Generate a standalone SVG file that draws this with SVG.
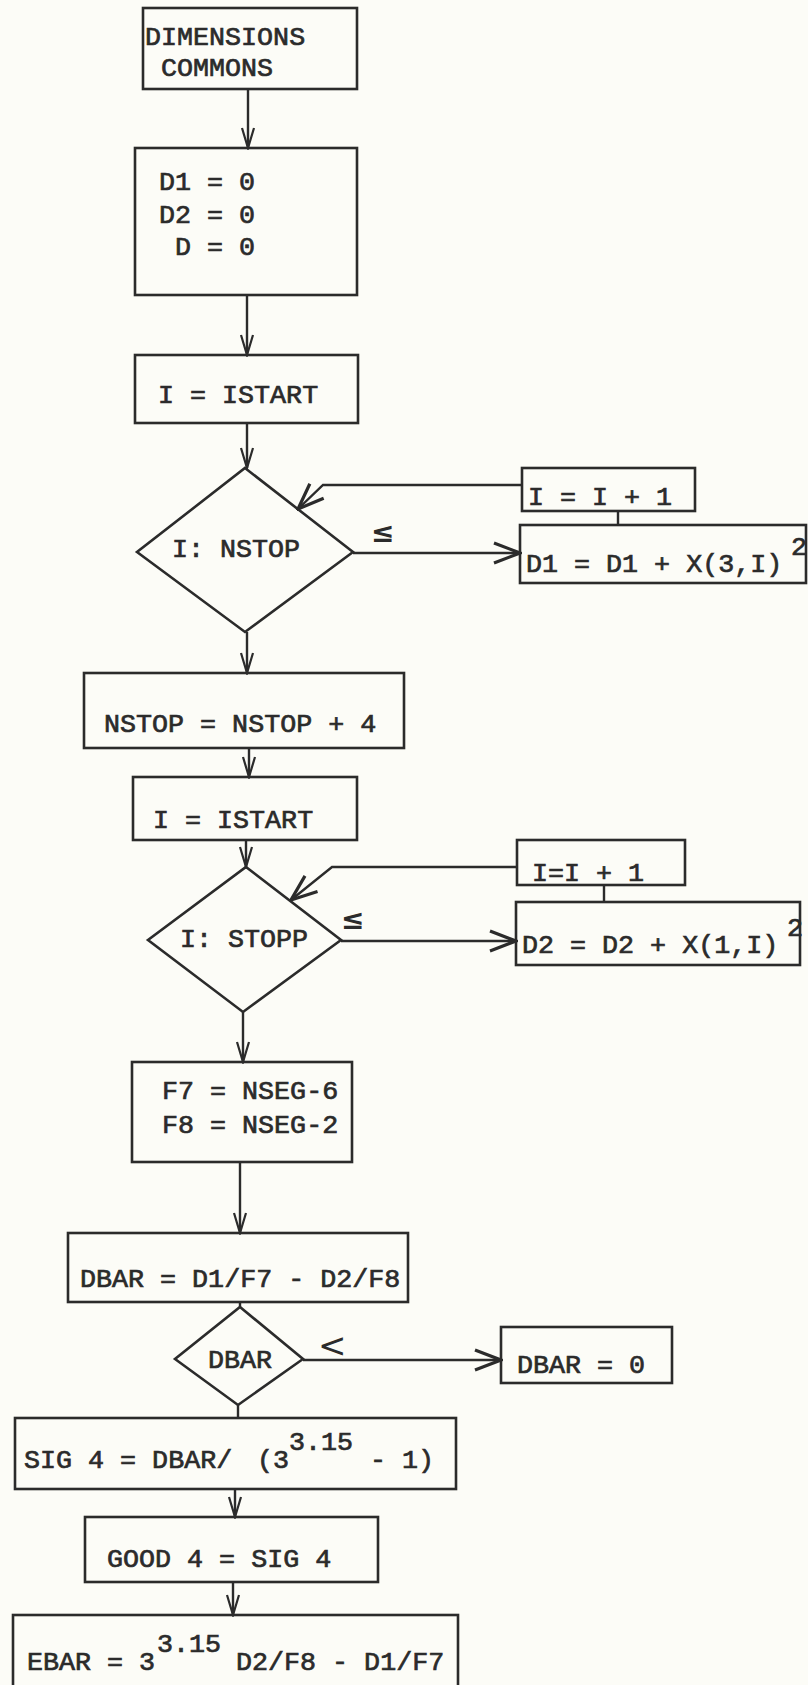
<svg xmlns="http://www.w3.org/2000/svg" width="808" height="1685" viewBox="0 0 808 1685">
<style>
.bg{fill:#fcfcf7}
.box{fill:none;stroke:#2b2b2b;stroke-width:2.6}
.ln{fill:none;stroke:#2b2b2b;stroke-width:2.4}
.t{font-family:"Liberation Mono","Courier New",monospace;font-size:26.7px;fill:#2b2b2b;stroke:#2b2b2b;stroke-width:0.7}
.sym{font-family:"DejaVu Sans",sans-serif;font-size:28px;fill:#2b2b2b;font-weight:bold}
.lt{font-family:"DejaVu Sans",sans-serif;font-size:34px;fill:#2b2b2b}
</style>
<defs>
<marker id="av" viewBox="-22 -8 24 16" refX="0" refY="0" markerWidth="24" markerHeight="16" markerUnits="userSpaceOnUse" orient="auto">
<path d="M-20,-6 L0,0 L-20,6" fill="none" stroke="#2b2b2b" stroke-width="2.2"/>
</marker>
<marker id="ar" viewBox="-30 -12 32 24" refX="0" refY="0" markerWidth="32" markerHeight="24" markerUnits="userSpaceOnUse" orient="auto">
<path d="M-26,-10 L0,0 L-26,10" fill="none" stroke="#2b2b2b" stroke-width="3.2"/>
</marker>
</defs>
<rect class="bg" x="0" y="0" width="808" height="1685"/>

<g id="connectors">
<line class="ln" x1="248" y1="89" x2="248" y2="148" marker-end="url(#av)"/>
<line class="ln" x1="247" y1="295" x2="247" y2="355" marker-end="url(#av)"/>
<line class="ln" x1="247" y1="423" x2="247" y2="468" marker-end="url(#av)"/>
<line class="ln" x1="353" y1="553" x2="520" y2="553" marker-end="url(#ar)"/>
<polyline class="ln" points="522,485 323,485 298,509" marker-end="url(#ar)"/>
<line class="ln" x1="618" y1="511" x2="618" y2="525"/>
<line class="ln" x1="247" y1="632" x2="247" y2="673" marker-end="url(#av)"/>
<line class="ln" x1="249" y1="748" x2="249" y2="777" marker-end="url(#av)"/>
<line class="ln" x1="246" y1="840" x2="246" y2="867" marker-end="url(#av)"/>
<line class="ln" x1="341" y1="941" x2="516" y2="941" marker-end="url(#ar)"/>
<polyline class="ln" points="517,867 332,867 291,900" marker-end="url(#ar)"/>
<line class="ln" x1="604" y1="885" x2="604" y2="902"/>
<line class="ln" x1="243" y1="1012" x2="243" y2="1062" marker-end="url(#av)"/>
<line class="ln" x1="240" y1="1162" x2="240" y2="1233" marker-end="url(#av)"/>
<line class="ln" x1="240" y1="1302" x2="240" y2="1307"/>
<line class="ln" x1="303" y1="1360" x2="501" y2="1360" marker-end="url(#ar)"/>
<line class="ln" x1="238" y1="1405" x2="238" y2="1418"/>
<line class="ln" x1="235" y1="1489" x2="235" y2="1517" marker-end="url(#av)"/>
<line class="ln" x1="233" y1="1582" x2="233" y2="1615" marker-end="url(#av)"/>
<text class="sym" x="371" y="542">≤</text>
<text class="sym" x="341" y="929">≤</text>
<text class="lt" x="318" y="1357">&lt;</text>
</g>

<g id="n_dims">
<rect class="box" x="143" y="8" width="214" height="81"/>
<text class="t" x="145" y="45">DIMENSIONS</text>
<text class="t" x="161" y="76">COMMONS</text>
</g>
<g id="n_init">
<rect class="box" x="135" y="148" width="222" height="147"/>
<text class="t" x="159" y="190">D1 = 0</text>
<text class="t" x="159" y="223">D2 = 0</text>
<text class="t" x="175" y="255">D = 0</text>
</g>
<g id="n_istart1">
<rect class="box" x="135" y="355" width="223" height="68"/>
<text class="t" x="158" y="403">I = ISTART</text>
</g>
<g id="n_dec1">
<polygon class="box" points="245,468 353,552 245,632 137,552"/>
<text class="t" x="172" y="557">I: NSTOP</text>
</g>
<g id="n_inc1">
<rect class="box" x="522" y="468" width="173" height="43"/>
<text class="t" x="528" y="505">I = I + 1</text>
</g>
<g id="n_sum1">
<rect class="box" x="520" y="525" width="286" height="58"/>
<text class="t" x="526" y="572">D1 = D1 + X(3,I)</text>
<text class="t" x="791" y="555">2</text>
</g>
<g id="n_nstop">
<rect class="box" x="84" y="673" width="320" height="75"/>
<text class="t" x="104" y="732">NSTOP = NSTOP + 4</text>
</g>
<g id="n_istart2">
<rect class="box" x="133" y="777" width="224" height="63"/>
<text class="t" x="153" y="828">I = ISTART</text>
</g>
<g id="n_dec2">
<polygon class="box" points="246,867 341,940 243,1012 148,940"/>
<text class="t" x="180" y="947">I: STOPP</text>
</g>
<g id="n_inc2">
<rect class="box" x="517" y="840" width="168" height="45"/>
<text class="t" x="532" y="881">I=I + 1</text>
</g>
<g id="n_sum2">
<rect class="box" x="516" y="902" width="284" height="63"/>
<text class="t" x="522" y="953">D2 = D2 + X(1,I)</text>
<text class="t" x="787" y="936">2</text>
</g>
<g id="n_f7f8">
<rect class="box" x="132" y="1062" width="220" height="100"/>
<text class="t" x="162" y="1099">F7 = NSEG-6</text>
<text class="t" x="162" y="1133">F8 = NSEG-2</text>
</g>
<g id="n_dbar">
<rect class="box" x="68" y="1233" width="340" height="69"/>
<text class="t" x="80" y="1287">DBAR = D1/F7 - D2/F8</text>
</g>
<g id="n_dec3">
<polygon class="box" points="240,1307 303,1359 238,1405 175,1359"/>
<text class="t" x="208" y="1368">DBAR</text>
</g>
<g id="n_dbar0">
<rect class="box" x="501" y="1327" width="171" height="56"/>
<text class="t" x="517" y="1373">DBAR = 0</text>
</g>
<g id="n_sig">
<rect class="box" x="15" y="1418" width="441" height="71"/>
<text class="t" x="24" y="1468">SIG 4 = DBAR/</text>
<text class="t" x="257" y="1468">(3</text>
<text class="t" x="289" y="1450">3.15</text>
<text class="t" x="370" y="1468">- 1)</text>
</g>
<g id="n_good">
<rect class="box" x="85" y="1517" width="293" height="65"/>
<text class="t" x="107" y="1567">GOOD 4 = SIG 4</text>
</g>
<g id="n_ebar">
<rect class="box" x="13" y="1615" width="445" height="90"/>
<text class="t" x="27" y="1670">EBAR = 3</text>
<text class="t" x="157" y="1652">3.15</text>
<text class="t" x="236" y="1670">D2/F8 - D1/F7</text>
</g>
</svg>
